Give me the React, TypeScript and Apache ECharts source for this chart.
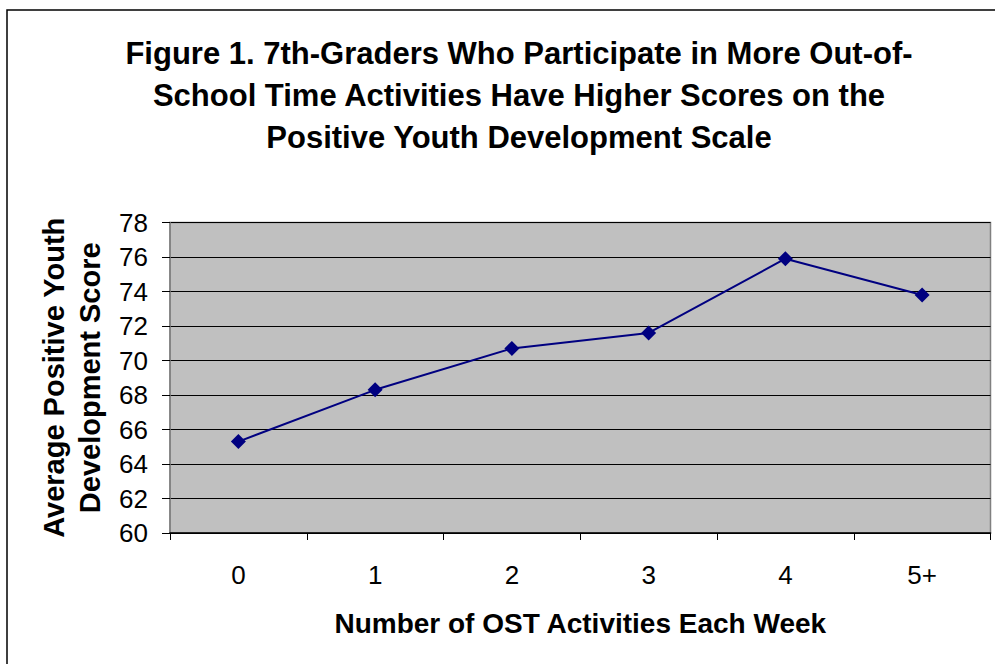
import React, { useEffect, useRef } from "react";
import * as echarts from "echarts";

const titleLines = [
  "Figure 1. 7th-Graders Who Participate in More Out-of-",
  "School Time Activities Have Higher Scores on the",
  "Positive Youth Development Scale",
];
const categories = ["0", "1", "2", "3", "4", "5+"];
const scores = [65.3, 68.3, 70.7, 71.6, 75.9, 73.8];
const yMin = 60;
const yMax = 78;
const yInterval = 2;
const xAxisName = "Number of OST Activities Each Week";
const yAxisName = "Average Positive Youth\nDevelopment Score";

const FONT = "'Liberation Sans', Arial, sans-serif";

export default function App() {
  const ref = useRef<HTMLDivElement>(null);
  useEffect(() => {
    if (!ref.current) return;
    const chart = echarts.init(ref.current, null, { renderer: "svg" });
    chart.setOption({
      animation: false,
      backgroundColor: "#ffffff",
      textStyle: { fontFamily: FONT },
      title: {
        text: titleLines.join("\n"),
        left: 514,
        top: 27,
        textAlign: "center",
        textStyle: {
          fontFamily: FONT,
          fontWeight: "bold",
          fontSize: 31,
          lineHeight: 42,
          color: "#000000",
        },
      },
      graphic: [
        {
          type: "rect",
          shape: { x: 7, y: 10, width: 1000, height: 700 },
          style: { fill: "none", stroke: "#000000", lineWidth: 1.5 },
          silent: true,
          z: -1,
        },
      ],
      grid: {
        left: 170,
        top: 222.5,
        right: 4.5,
        bottom: 131,
        show: true,
        backgroundColor: "#c0c0c0",
        borderColor: "#808080",
        borderWidth: 1.5,
      },
      xAxis: {
        type: "category",
        data: categories,
        boundaryGap: true,
        name: xAxisName,
        nameLocation: "middle",
        nameGap: 76,
        nameTextStyle: {
          fontFamily: FONT,
          fontWeight: "bold",
          fontSize: 28,
          color: "#000000",
        },
        axisLine: { lineStyle: { color: "#000000", width: 1.5 } },
        axisTick: {
          show: true,
          alignWithLabel: false,
          length: 7,
          lineStyle: { color: "#000000" },
        },
        axisLabel: {
          fontFamily: FONT,
          fontSize: 26,
          color: "#000000",
          margin: 29,
        },
      },
      yAxis: {
        type: "value",
        min: yMin,
        max: yMax,
        interval: yInterval,
        name: yAxisName,
        nameLocation: "middle",
        nameGap: 62,
        nameTextStyle: {
          fontFamily: FONT,
          fontWeight: "bold",
          fontSize: 29,
          lineHeight: 36,
          color: "#000000",
        },
        axisLine: { show: true, lineStyle: { color: "#808080", width: 1.5 } },
        axisTick: { show: true, length: 8, lineStyle: { color: "#000000" } },
        axisLabel: {
          fontFamily: FONT,
          fontSize: 26,
          color: "#000000",
          margin: 22,
        },
        splitLine: { show: true, lineStyle: { color: "#000000", width: 1 } },
      },
      series: [
        {
          type: "line",
          data: scores,
          symbol: "diamond",
          symbolSize: 15,
          lineStyle: { color: "#000080", width: 2 },
          itemStyle: { color: "#000080" },
        },
      ],
    });
    return () => chart.dispose();
  }, []);
  return (
    <div
      ref={ref}
      style={{ position: "absolute", left: 0, top: 0, width: 995, height: 664 }}
    />
  );
}
